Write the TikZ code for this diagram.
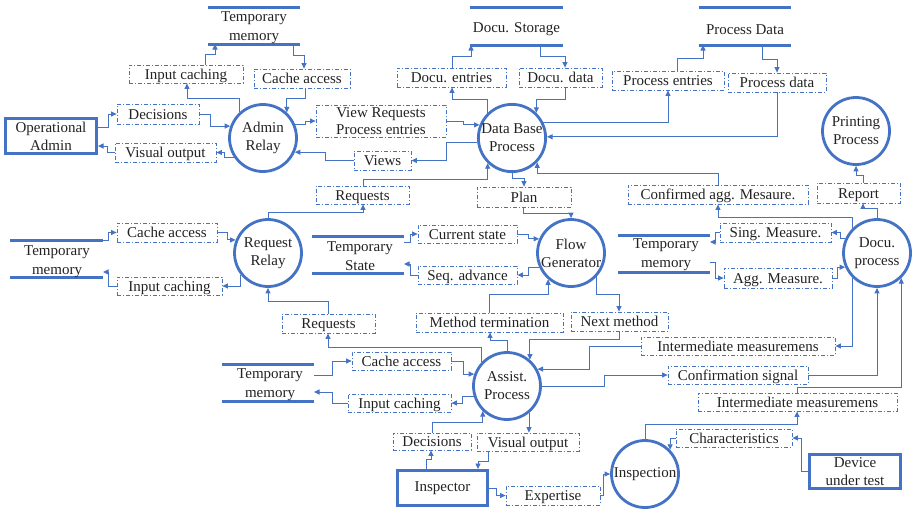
\documentclass[tikz,border=0pt]{standalone}
\usepackage{fontspec}
\setmainfont{Liberation Serif}
\usetikzlibrary{arrows.meta}
\definecolor{blu}{HTML}{4472C4}
\definecolor{txt}{HTML}{222222}
\begin{document}
\begin{tikzpicture}[x=1pt,y=-1pt,
  every node/.style={font=\fontsize{15}{18}\selectfont, text=txt},
  proc/.style={circle, draw=blu, line width=2.8pt, minimum size=67pt, inner sep=0pt, align=center},
  ent/.style={draw=blu, line width=3pt, inner sep=0pt, align=center},
  lblbase/.style={draw=blu, line width=0.8pt, dash pattern=on 4pt off 2pt on 1pt off 2pt, inner sep=0pt, align=center},
  lbl/.style={lblbase, text height=10.5pt, text depth=0pt},
  store/.style={inner sep=0pt, outer sep=0pt},
  stext/.style={inner sep=0pt, align=center, font=\fontsize{15}{19}\selectfont},
  fl/.style={draw=blu, line width=0.9pt, -{Triangle[length=5.5pt,width=5pt]}},
  sline/.style={draw=blu, line width=3pt}
]
\useasboundingbox (0,0) rectangle (912,509);

% processes
\node[proc] (adm) at (263,138) {Admin\\Relay};
\node[proc] (db) at (512,138) {Data Base\\Process};
\node[proc] (prn) at (856,131) {Printing\\Process};
\node[proc] (rr) at (268,253) {Request\\Relay};
\node[proc] (flow) at (571,253) {Flow\\Generator};
\node[proc] (dpr) at (877,253) {Docu.\\process};
\node[proc] (asst) at (507,386) {Assist.\\Process};
\node[proc] (insp) at (645,474) {Inspection};

% external entities
\node[ent, minimum width=91pt, minimum height=35pt] (opadm) at (51,136) {Operational\\Admin};
\node[ent, minimum width=90pt, minimum height=35pt] (insptr) at (442.5,488) {Inspector};
\node[ent, minimum width=91pt, minimum height=34pt] (dut) at (855,471.5) {Device\\under test};

% data stores
\node[store, minimum width=92pt, minimum height=37pt] (tmA) at (254,25.5) {};
\node[store, minimum width=93pt, minimum height=38pt] (dst) at (516.5,26) {};
\node[store, minimum width=92pt, minimum height=38pt] (pdst) at (745,26) {};
\node[store, minimum width=93pt, minimum height=37pt] (tmB) at (56.5,258.5) {};
\node[store, minimum width=92pt, minimum height=37pt] (tst) at (358,254.5) {};
\node[store, minimum width=92pt, minimum height=37pt] (tmC) at (664,253.5) {};
\node[store, minimum width=92pt, minimum height=37pt] (tmD) at (268,382.5) {};
\foreach \s in {tmA,dst,pdst,tmB,tst,tmC,tmD}{
  \draw[sline] (\s.north west) -- (\s.north east) (\s.south west) -- (\s.south east);
}
\node[stext] (tmAt) at (254,28) {Temporary\\memory};
\node[stext] (dstt) at (516.5,29) {Docu. Storage};
\node[stext] (pdstt) at (745,30) {Process Data};
\node[stext] (tmBt) at (57,262) {Temporary\\memory};
\node[stext] (tstt) at (360,256.5) {Temporary\\State};
\node[stext] (tmCt) at (666,255) {Temporary\\memory};
\node[stext] (tmDt) at (270,385) {Temporary\\memory};

% data flow labels
\node[lbl, minimum width=114pt, minimum height=18pt] (icA) at (186,74) {Input caching};
\node[lbl, minimum width=96pt, minimum height=19pt] (caA) at (302,78.5) {Cache access};
\node[lbl, minimum width=82pt, minimum height=20pt] (decA) at (158,114) {Decisions};
\node[lbl, minimum width=101pt, minimum height=19pt] (voA) at (165.5,152.5) {Visual output};
\node[lbl, minimum width=109pt, minimum height=19pt] (dent) at (451.5,77.5) {Docu. entries};
\node[lbl, minimum width=83pt, minimum height=19pt] (ddat) at (560.5,77.5) {Docu. data};
\node[lblbase, minimum width=130pt, minimum height=32pt, font=\fontsize{15}{17}\selectfont] (vreq) at (381,121) {View Requests\\Process entries};
\node[lbl, minimum width=57pt, minimum height=19pt] (views) at (382.5,160.5) {Views};
\node[lbl, minimum width=112pt, minimum height=19pt] (pent) at (668,80.5) {Process entries};
\node[lbl, minimum width=98pt, minimum height=19pt] (pdat) at (777,82.5) {Process data};
\node[lbl, minimum width=94pt, minimum height=20pt] (plan) at (524,197) {Plan};
\node[lbl, minimum width=180pt, minimum height=19pt] (cagg) at (718,194.5) {Confirmed agg. Mesaure.};
\node[lbl, minimum width=83pt, minimum height=20pt] (rep) at (858.5,193) {Report};
\node[lbl, minimum width=93pt, minimum height=18pt] (reqA) at (362.5,195) {Requests};
\node[lbl, minimum width=100pt, minimum height=19pt] (caB) at (167,232.5) {Cache access};
\node[lbl, minimum width=105pt, minimum height=18pt] (icB) at (169.5,286) {Input caching};
\node[lbl, minimum width=93pt, minimum height=19pt] (reqB) at (328.5,323.5) {Requests};
\node[lbl, minimum width=99pt, minimum height=18pt] (cst) at (467.5,234) {Current state};
\node[lbl, minimum width=99pt, minimum height=18pt] (seq) at (467.5,275) {Seq. advance};
\node[lbl, minimum width=147pt, minimum height=19pt] (mterm) at (489.5,322.5) {Method termination};
\node[lbl, minimum width=97pt, minimum height=19pt] (nmeth) at (619.5,321.5) {Next method};
\node[lbl, minimum width=111pt, minimum height=19pt] (sing) at (775.5,232.5) {Sing. Measure.};
\node[lbl, minimum width=108pt, minimum height=20pt] (aggm) at (778,278) {Agg. Measure.};
\node[lbl, minimum width=194pt, minimum height=18pt] (imA) at (738,346) {Intermediate measuremens};
\node[lbl, minimum width=140pt, minimum height=18pt] (csig) at (738,375) {Confirmation signal};
\node[lbl, minimum width=199pt, minimum height=18pt] (imB) at (797.5,402) {Intermediate measuremens};
\node[lbl, minimum width=116pt, minimum height=18pt] (chars) at (734,438) {Characteristics};
\node[lbl, minimum width=94pt, minimum height=19pt] (expt) at (553,495.5) {Expertise};
\node[lbl, minimum width=102pt, minimum height=18pt] (voB) at (528,442) {Visual output};
\node[lbl, minimum width=99pt, minimum height=18pt] (caC) at (401.5,361) {Cache access};
\node[lbl, minimum width=103pt, minimum height=18pt] (icC) at (399.5,403) {Input caching};
\node[lbl, minimum width=78pt, minimum height=17pt] (decB) at (432,441.5) {Decisions};

% connectors
\draw[fl] (adm.133) |- (187,98) -- (187,0 |- icA.south);
\draw[fl] (205,0 |- icA.north) |- (215,54) -- (215,0 |- tmA.south);
\draw[fl] (293,0 |- tmA.south) |- (304,55) -- (304,0 |- caA.north);
\draw[fl] (305,0 |- caA.south) -- (305,98) -| (adm.47);
\draw[fl] (opadm.east |- 0,127) -- (108,127) |- (decA.west);
\draw[fl] (decA.east) -- (210,0 |- decA.east) |- (adm.160);
\draw[fl] (adm.213) -| (224,0 |- voA.east) -- (voA.east);
\draw[fl] (voA.west) -- (107,0 |- voA.west) |- (opadm.east |- 0,146);
\draw[fl] (adm.22) -| (305,0 |- vreq.west) -- (vreq.west);
\draw[fl] (vreq.east) -| (463,0 |- db.158) -- (db.158);
\draw[fl] (db.187) -| (446,0 |- views.east) -- (views.east);
\draw[fl] (views.west) -| (325,0 |- adm.336) -- (adm.336);
\draw[fl] (rr.north) |- (363,212) -- (363,0 |- reqA.south);
\draw[fl] (363,0 |- reqA.north) -- (363,179) -| (db.226);
\draw[fl] (db.134) |- (452,99) -- (452,0 |- dent.south);
\draw[fl] (452,0 |- dent.north) |- (471,56) -- (471,0 |- dst.south);
\draw[fl] (540,0 |- dst.south) |- (565,56) -- (565,0 |- ddat.north);
\draw[fl] (565,0 |- ddat.south) -- (565,99) -| (db.46);
\draw[fl] (db.27) -| (668,0 |- pent.south);
\draw[fl] (677,0 |- pent.north) |- (703,58) -- (703,0 |- pdst.south);
\draw[fl] (762,0 |- pdst.south) |- (777,59) -- (777,0 |- pdat.north);
\draw[fl] (777,0 |- pdat.south) |- (db.2);
\draw[fl] (db.south) |- (524,178) -- (524,0 |- plan.north);
\draw[fl] (523,0 |- plan.south) -- (523,213) -| (flow.north);
\draw[fl] (dpr.134) |- (718,217) -- (718,0 |- cagg.south);
\draw[fl] (718,0 |- cagg.north) -- (718,173) -| (db.316);
\draw[fl] (dpr.226) |- (imA.east);
\draw[fl] (imA.west) -| (589,0 |- asst.29) -- (asst.29);
\draw[fl] (dpr.north) |- (863,208) -- (863,0 |- rep.south);
\draw[fl] (863,0 |- rep.north) -- (863,175) -| (prn.south);
\draw[fl] (dpr.155) -| (840,0 |- sing.east) -- (sing.east);
\draw[fl] (sing.west) -| (715,242) -- (tmC.east |- 0,242);
\draw[fl] (tmC.east |- 0,262) -| (715,0 |- aggm.west) -- (aggm.west);
\draw[fl] (aggm.east) -| (837,0 |- dpr.204) -- (dpr.204);
\draw[fl] (asst.east) -| (604,0 |- csig.west) -- (csig.west);
\draw[fl] (csig.east) -| (dpr.south);
\draw[fl] (insp.north) |- (797,424) -- (797,0 |- imB.south);
\draw[fl] (797,0 |- imB.north) -- (797,387) -| (dpr.314);
\draw[fl] (dut.west) -| (801,0 |- chars.east) -- (chars.east);
\draw[fl] (chars.west) -| (insp.44);
\draw[fl] (insptr.east) -| (496,0 |- expt.west) -- (expt.west);
\draw[fl] (expt.east) -| (603,0 |- insp.west) -- (insp.west);
\draw[fl] (426,0 |- insptr.north) |- (431,459) -- (431,0 |- decB.south);
\draw[fl] (432,0 |- decB.north) -- (432,422) -| (asst.226);
\draw[fl] (asst.309) -- (asst.309 |- voB.north);
\draw[fl] (488,0 |- voB.south) |- (478,461) -- (478,0 |- insptr.north);
\draw[fl] (tmD.east |- 0,375) -| (332,0 |- caC.west) -- (caC.west);
\draw[fl] (caC.east) -| (463,0 |- asst.160) -- (asst.160);
\draw[fl] (asst.198) -| (462,0 |- icC.east) -- (icC.east);
\draw[fl] (icC.west) -| (332,392) -- (tmD.east |- 0,392);
\draw[fl] (asst.136) |- (328,347) -- (328,0 |- reqB.south);
\draw[fl] (328,0 |- reqB.north) -- (328,301) -| (rr.south);
\draw[fl] (asst.north) |- (490,340) -- (490,0 |- mterm.south);
\draw[fl] (489,0 |- mterm.north) -- (489,294) -| (flow.229);
\draw[fl] (flow.318) |- (619,294) -- (619,0 |- nmeth.north);
\draw[fl] (619,0 |- nmeth.south) -- (619,339) -| (asst.49);
\draw[fl] (tst.east |- 0,242) -| (410,0 |- cst.west) -- (cst.west);
\draw[fl] (cst.east) -| (528,0 |- flow.156) -- (flow.156);
\draw[fl] (flow.204) -| (528,0 |- seq.east) -- (seq.east);
\draw[fl] (seq.west) -| (410,264) -- (tst.east |- 0,264);
\draw[fl] (tmB.north east) -| (108,0 |- caB.west) -- (caB.west);
\draw[fl] (caB.east) -| (227,0 |- rr.158) -- (rr.158);
\draw[fl] (rr.219) |- (icB.east);
\draw[fl] (icB.west) -| (108,272) -- (tmB.east |- 0,272);
\end{tikzpicture}
\end{document}
